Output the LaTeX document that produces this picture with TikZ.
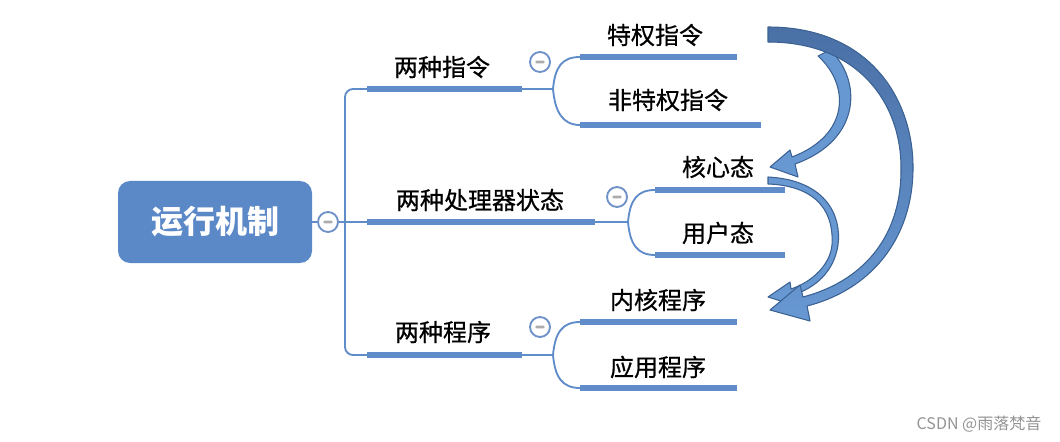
\documentclass[tikz,border=0pt]{standalone}
\usepackage{fontspec}
\setmainfont{Noto Sans CJK SC}
\newfontfamily\lblfont{Noto Sans CJK SC}[FakeBold=0.7]
\usepackage{tikz}
\usetikzlibrary{calc}

\definecolor{mapblue}{RGB}{91,136,199}
\definecolor{linkblue}{RGB}{96,140,201}
\definecolor{btnblue}{RGB}{110,145,200}
\definecolor{arrowfill}{RGB}{104,152,210}
\definecolor{arrowdark}{RGB}{74,112,166}
\definecolor{arrowline}{RGB}{60,98,148}

\tikzset{
	rootbox/.style={rectangle, rounded corners=9pt, fill=mapblue, text=white, font=\fontsize{24}{28}\selectfont\bfseries, minimum width=145.5pt, minimum height=61.5pt},
	lbl/.style={font=\fontsize{18}{21}\selectfont\lblfont, text=black, inner sep=0pt},
	bar/.style={draw=linkblue, line width=3.8pt},
	link/.style={draw=linkblue, line width=1.4pt},
	btn/.style={circle, draw=btnblue, fill=white, line width=1.4pt, minimum size=15pt, inner sep=0pt,
		path picture={\fill[gray!65, rounded corners=0.8pt] ([xshift=-3.4pt,yshift=-1pt]path picture bounding box.center) rectangle ([xshift=3.4pt,yshift=1pt]path picture bounding box.center);}},
	blockarrow/.style={fill=arrowfill, draw=arrowline, line width=0.8pt, line join=round}
}

\begin{document}
\begin{tikzpicture}[x=0.75pt, y=-0.75pt]
	\useasboundingbox (0,0) rectangle (1060,442);

	\node[rootbox] (root) at (215,222) {运行机制};
	\node[btn] (b0) at (328,222) {};

	\coordinate (trunktop) at (345,89);
	\coordinate (trunkmid) at (345,222);
	\coordinate (trunkbot) at (345,355);

	\foreach \k/\y/\e/\j in {1/89/522/553, 2/222/595/628, 3/355/522/553}
	{
		\coordinate (s\k) at (367,\y);
		\coordinate (e\k) at (\e,\y);
		\coordinate (j\k) at (\j,\y);
	}

	\coordinate (c11) at (580,57);   \coordinate (d11) at (737,57);
	\coordinate (c12) at (580,125);  \coordinate (d12) at (761,125);
	\coordinate (c21) at (655,190);  \coordinate (d21) at (785,190);
	\coordinate (c22) at (655,255);  \coordinate (d22) at (785,255);
	\coordinate (c31) at (580,322);  \coordinate (d31) at (737,322);
	\coordinate (c32) at (580,388);  \coordinate (d32) at (737,388);

	\draw[link] (root.east) -- (b0) -- (trunkmid);
	\draw[link, rounded corners=6pt] (s1) -- (trunktop) -- (trunkbot) -- (s3);
	\draw[link] (trunkmid) -- (s2);

	\foreach \k in {1,2,3}
	{
		\draw[bar] (s\k) -- (e\k);
		\draw[link] (e\k) -- (j\k);
		\draw[link] (j\k) .. controls ($(j\k)+(2,-22)$) and ($(c\k1)+(-18,0)$) .. (c\k1);
		\draw[link] (j\k) .. controls ($(j\k)+(2,22)$) and ($(c\k2)+(-18,0)$) .. (c\k2);
		\draw[bar] (c\k1) -- (d\k1);
		\draw[bar] (c\k2) -- (d\k2);
	}

	\node[btn] (b1) at (540,62) {};
	\node[btn] (b2) at (617,197) {};
	\node[btn] (b3) at (540,327) {};

	\node[lbl] (n1) at (442,67) {两种指令};
	\node[lbl] (n11) at (655,35) {特权指令};
	\node[lbl] (n12) at (668,100) {非特权指令};
	\node[lbl] (n2) at (480,200) {两种处理器状态};
	\node[lbl] (n21) at (718,167) {核心态};
	\node[lbl] (n22) at (718,233) {用户态};
	\node[lbl] (n3) at (443,332) {两种程序};
	\node[lbl] (n31) at (658,300) {内核程序};
	\node[lbl] (n32) at (658,367) {应用程序};

	\draw[blockarrow] (768,177) .. controls (825,180) and (842,215) .. (838,245)
		.. controls (834,272) and (815,288) .. (793,295) -- (797,306) -- (768,297) -- (790,282) -- (791,289)
		.. controls (812,282) and (830,265) .. (832,245) .. controls (834,215) and (820,186) .. (768,184) -- cycle;

	\draw[blockarrow] (830,50) .. controls (862,80) and (862,140) .. (795,164)
		-- (798,177) -- (770,167) -- (790,150) -- (792,157)
		.. controls (850,135) and (850,85) .. (818,56) -- cycle;

	\draw[blockarrow, top color=arrowdark, bottom color=arrowfill] (768,27) .. controls (870,27) and (914,100) .. (913,170)
		.. controls (912,240) and (870,290) .. (807,306) -- (810,321) -- (770,310) -- (800,285) -- (803,297)
		.. controls (860,282) and (901,240) .. (901,170) .. controls (902,105) and (860,42) .. (768,42) -- cycle;

	\node[font=\fontsize{12}{14}\selectfont, text=gray!85, anchor=east] (mark) at (1046,424) {CSDN @雨落梵音};
\end{tikzpicture}
\end{document}
